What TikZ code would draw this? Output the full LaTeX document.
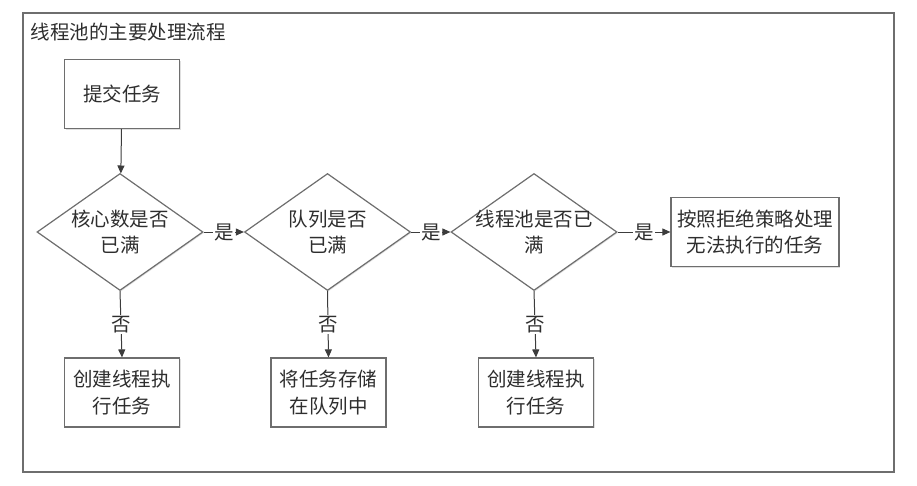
\documentclass[tikz,border=0pt]{standalone}
\usepackage{fontspec}
\setmainfont{Noto Sans CJK SC}
\usetikzlibrary{arrows.meta, shapes.geometric, shadows}
\definecolor{rahmen}{HTML}{6E6E6E}
\definecolor{linie}{HTML}{3C3C3C}
\definecolor{schrift}{HTML}{2E2E2E}

\begin{document}
\begin{tikzpicture}[
    x=1pt, y=-1pt,
    every node/.style={font=\fontsize{19.5}{26.5}\selectfont, text=schrift},
    kasten/.style={draw=rahmen, line width=1.2pt, fill=white, align=center,
      minimum width=115pt, minimum height=69pt, inner sep=0pt,
      drop shadow={shadow xshift=1pt, shadow yshift=-1pt, fill=black!25}},
    raute/.style={diamond, draw=rahmen, line width=1.2pt, fill=white,
      minimum width=166pt, minimum height=117pt, inner sep=0pt,
      drop shadow={shadow xshift=1pt, shadow yshift=-1pt, fill=black!25}},
    pfeil/.style={draw=linie, line width=1pt, -{Triangle[length=8pt, width=7pt]}},
    marke/.style={fill=white, inner sep=1pt},
  ]
  \useasboundingbox (0,0) rectangle (917,485);

  % Rahmen und Titel
  \draw[rahmen, line width=1.5pt] (23,13) rectangle (894,472);
  \node[anchor=west] (titel) at (27,32) {线程池的主要处理流程};

  % Start
  \node[kasten] (start) at (122,94) {提交任务};

  % Abfragen
  \node[raute, label={[align=center]center:{核心数是否\\已满}}] (kern) at (120,232) {};
  \node[raute, label={[align=center]center:{队列是否\\已满}}] (queue) at (327.5,232) {};
  \node[raute, label={[align=center]center:{线程池是否已\\满}}] (pool) at (534,232) {};

  % Ergebnisse
  \node[kasten, minimum width=168pt] (reject) at (755,232) {按照拒绝策略处理\\无法执行的任务};
  \node[kasten] (core) at (122,392.5) {创建线程执\\行任务};
  \node[kasten] (store) at (328.5,392.5) {将任务存储\\在队列中};
  \node[kasten] (extra) at (536,392.5) {创建线程执\\行任务};

  % Pfeile
  \draw[pfeil] (start) -- (kern);
  \draw[pfeil] (kern.east) -- node[marke]{是} (queue.west);
  \draw[pfeil] (queue.east) -- node[marke]{是} (pool.west);
  \draw[pfeil] (pool.east) -- node[marke]{是} (reject.west);
  \draw[pfeil] (kern.south) -- node[marke]{否} (core.north);
  \draw[pfeil] (queue.south) -- node[marke]{否} (store.north);
  \draw[pfeil] (pool.south) -- node[marke]{否} (extra.north);
\end{tikzpicture}
\end{document}
